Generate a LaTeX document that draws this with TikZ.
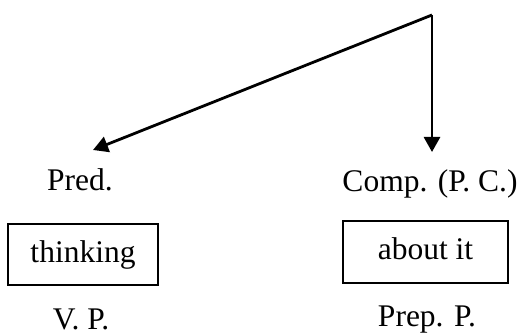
\documentclass[tikz,border=0pt]{standalone}
\usepackage{fontspec}
\setmainfont{Liberation Serif}
\usetikzlibrary{arrows.meta}
\begin{document}
\begin{tikzpicture}[x=1pt,y=-1pt,
  lbl/.style={anchor=base,inner sep=0pt,font=\fontsize{31.5}{36}\selectfont},
  wordbox/.style={draw,line width=1.1pt,inner sep=0pt,text height=22pt,text depth=7pt,font=\fontsize{31.5}{36}\selectfont},
  arr/.style={line width=2.8pt,-{Triangle[width=16pt,length=15pt]}}]
\useasboundingbox (0,0) rectangle (526,336);
\coordinate (top) at (432,15);
\coordinate (lt) at (93,150);
\coordinate (dt) at (432,152);
\draw[arr] (top) -- (lt);
\draw[arr] (top) -- (dt);
\node[lbl] (pred) at (80,191) {Pred.};
\node[lbl] (comp) at (430,192) {Comp. (P. C.)};
\node[wordbox,minimum width=150pt,minimum height=61pt] (thinking) at (83,254.5) {thinking};
\node[wordbox,minimum width=165pt,minimum height=62pt] (about) at (425.5,252) {about it};
\node[lbl] (vp) at (81,329) {V. P.};
\node[lbl] (prep) at (427,326) {Prep. P.};
\end{tikzpicture}
\end{document}
